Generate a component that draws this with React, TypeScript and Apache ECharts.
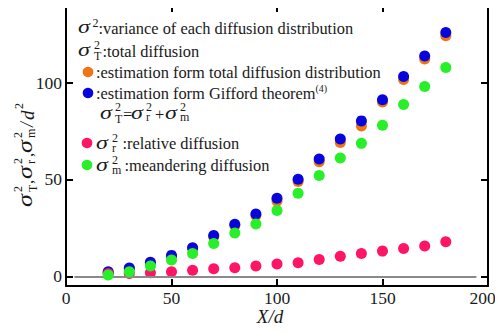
import React, { useEffect, useRef } from "react";
import * as echarts from "echarts";

const xValues = [20, 30, 40, 50, 60, 70, 80, 90, 100, 110, 120, 130, 140, 150, 160, 170, 180];
const totalEst = [2.0, 4.0, 7.0, 10.4, 14.3, 20.4, 26.2, 31.4, 38.8, 48.9, 59.1, 69.1, 77.6, 89.9, 101.5, 112.1, 124.1];
const gifford = [2.4, 4.3, 7.3, 10.8, 14.7, 21.0, 26.8, 32.1, 40.3, 50.1, 60.5, 70.8, 80.2, 91.1, 103.1, 113.7, 125.8];
const relative = [1.5, 1.5, 1.9, 2.4, 3.1, 3.9, 4.4, 5.3, 6.3, 7.0, 8.7, 10.4, 11.8, 13.0, 14.4, 15.6, 17.8];
const meandering = [0.7, 2.4, 5.3, 8.4, 11.8, 16.9, 22.4, 27.0, 34.0, 42.9, 52.0, 61.0, 68.6, 78.0, 88.7, 98.0, 107.8];
const xTicks = [0, 50, 100, 150, 200];
const yTicks = [0, 50, 100];
const zeroLineFrom = 4;
const zeroLineTo = 194.5;

const FONT = "Liberation Serif";
const C_ORANGE = "#F07414";
const C_BLUE = "#0606DC";
const C_PINK = "#FF1466";
const C_GREEN = "#28F028";
const TXT = "#1a1a1a";
const LG = 16.4;

function t(x: number, y: number, s: string, size = LG, italic = false, scaleX = 1, lh?: number): any {
  return {
    type: "text",
    x,
    y,
    scaleX,
    silent: true,
    style: {
      text: s,
      fontFamily: FONT,
      fontSize: size,
      lineHeight: lh ?? Math.round(size * 0.9),
      fontStyle: italic ? "italic" : "normal",
      fill: TXT,
      align: "left",
      verticalAlign: "middle",
    },
  };
}

// small superscript / subscript text
function s(x: number, y: number, str: string): any {
  return t(x, y, str, 12, false, 1, 8);
}

// sigma with superscript 2 and optional subscript
function sigma(x: number, y: number, sub: string | null, supY: number, subY: number, gap: number): any[] {
  const els = [t(x, y, "σ", 18.5, true, 1.3, 12)];
  els.push(s(x + gap, y + supY, "2"));
  if (sub) els.push(s(x + gap, y + subY, sub));
  return els;
}

function dot(x: number, y: number, color: string): any {
  return { type: "circle", silent: true, shape: { cx: x, cy: y, r: 5.3 }, style: { fill: color } };
}

function scatter(name: string, data: number[], color: string, z: number): any {
  return {
    name,
    type: "scatter",
    symbolSize: 11,
    z,
    itemStyle: { color, opacity: 1 },
    data: xValues.map((x, i) => [x, data[i]]),
  };
}

export default function App() {
  const ref = useRef<HTMLDivElement>(null);
  useEffect(() => {
    if (!ref.current) return;
    const chart = echarts.init(ref.current, null, { renderer: "svg" });

    const legend: any[] = [
      ...sigma(78, 26.5, null, -3.5, 0, 14.5),
      t(98.5, 28, ":variance of each diffusion distribution"),
      ...sigma(78, 50, "T", -5, 6, 16),
      t(102.5, 51, ":total diffusion"),
      dot(88, 72, C_ORANGE),
      t(96, 72, ":estimation form total diffusion distribution"),
      dot(88, 93, C_BLUE),
      t(96, 93, ":estimation form Gifford theorem"),
      t(315.5, 88.5, "(4)", 10),
      ...sigma(100, 113, "T", -6.5, 5.5, 15),
      t(123, 114, "=", LG),
      ...sigma(131, 113, "r", -6.5, 4, 15),
      t(155, 114, "+", LG),
      ...sigma(165, 113, "m", -6.5, 4, 15),
      dot(87, 143, C_PINK),
      ...sigma(96, 143, "r", -5, 4.5, 16),
      t(122.5, 143, ":relative diffusion"),
      dot(87, 165, C_GREEN),
      ...sigma(96, 165, "m", -5, 4.5, 16),
      t(124.5, 165, ":meandering diffusion"),
    ];

    const yLabelChildren: any[] = [
      t(-54, -2, "σ", 20, true, 1.3, 12),
      s(-39, -9.5, "2"),
      s(-39, 5.5, "T"),
      t(-31, 0, ",", 17),
      t(-26, -2, "σ", 20, true, 1.3, 12),
      s(-11, -9.5, "2"),
      s(-11, 4, "r"),
      t(-4, 0, ",", 17),
      t(0, -2, "σ", 20, true, 1.3, 12),
      s(15, -9.5, "2"),
      s(15, 4, "m"),
      t(26, 0, "/", 18, true),
      t(33, 0, "d", 19, true),
      s(44, -8.5, "2"),
    ];

    const option: any = {
      animation: false,
      backgroundColor: "#ffffff",
      textStyle: { fontFamily: FONT },
      grid: { left: 66, right: 15, top: 5, bottom: 46, containLabel: false },
      xAxis: [
        {
          type: "value",
          min: 0,
          max: 200,
          interval: 50,
          axisLine: { show: true, onZero: false, lineStyle: { color: "#000", width: 2 } },
          axisTick: { show: true, inside: true, length: 7, lineStyle: { color: "#000", width: 2 } },
          axisLabel: {
            color: TXT,
            fontFamily: FONT,
            fontSize: 17.5,
            margin: 3,
            customValues: xTicks,
            formatter: (v: number) => (v === 200 ? "{r|200}" : String(v)),
            rich: { r: { fontFamily: FONT, fontSize: 17.5, color: TXT, padding: [0, 11, 0, 0] } },
          },
          splitLine: { show: false },
        },
        {
          type: "value",
          position: "top",
          min: 0,
          max: 200,
          interval: 50,
          axisLine: { show: true, onZero: false, lineStyle: { color: "#000", width: 2 } },
          axisTick: { show: true, inside: true, length: 7, lineStyle: { color: "#000", width: 2 } },
          axisLabel: { show: false },
          splitLine: { show: false },
        },
      ],
      yAxis: [
        {
          type: "value",
          min: -5,
          max: 140,
          axisLine: { show: true, onZero: false, lineStyle: { color: "#000", width: 2 } },
          axisTick: { show: true, inside: true, length: 7, customValues: yTicks, lineStyle: { color: "#000", width: 2 } },
          axisLabel: {
            color: TXT,
            fontFamily: FONT,
            fontSize: 17.5,
            margin: 4,
            customValues: yTicks,
          },
          splitLine: { show: false },
        },
        {
          type: "value",
          position: "right",
          min: -5,
          max: 140,
          axisLine: { show: true, onZero: false, lineStyle: { color: "#000", width: 2 } },
          axisTick: { show: true, inside: true, length: 7, customValues: yTicks, lineStyle: { color: "#000", width: 2 } },
          axisLabel: { show: false, customValues: yTicks },
          splitLine: { show: false },
        },
      ],
      series: [
        {
          type: "line",
          data: [],
          z: 1,
          silent: true,
          markLine: {
            silent: true,
            symbol: "none",
            label: { show: false },
            lineStyle: { color: "#8a8a8a", width: 2, type: "solid" },
            data: [[{ coord: [zeroLineFrom, 0] }, { coord: [zeroLineTo, 0] }]],
          },
        },
        scatter("total", totalEst, C_ORANGE, 2),
        scatter("gifford", gifford, C_BLUE, 3),
        scatter("relative", relative, C_PINK, 4),
        scatter("meandering", meandering, C_GREEN, 5),
      ],
      graphic: [
        ...legend,
        {
          type: "group",
          x: 27,
          y: 153,
          rotation: Math.PI / 2,
          children: yLabelChildren,
        },
        {
          type: "text",
          x: 270,
          y: 316,
          silent: true,
          style: {
            text: "X/d",
            fontFamily: FONT,
            fontSize: 19,
            lineHeight: 17,
            fontStyle: "italic",
            fill: TXT,
            align: "center",
            verticalAlign: "middle",
          },
        },
      ],
    };
    chart.setOption(option);
    return () => chart.dispose();
  }, []);
  return <div ref={ref} style={{ width: 503, height: 332, margin: -8 }} />;
}
